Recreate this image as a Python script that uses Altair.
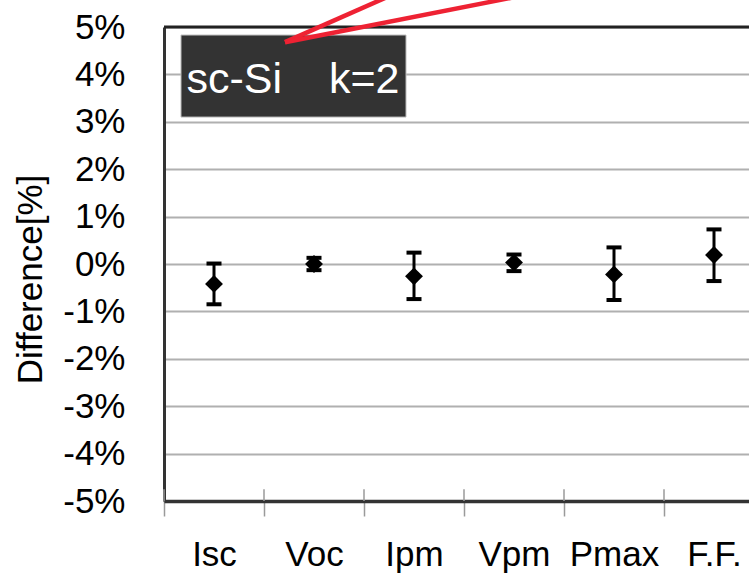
import json
import altair as alt
import pandas as pd

# ---- data ----
categories = ["Isc", "Voc", "Ipm", "Vpm", "Pmax", "F.F."]
mean_diff = [-0.42, 0.00, -0.26, 0.03, -0.22, 0.19]
upper_err = [0.01, 0.13, 0.24, 0.20, 0.35, 0.73]
lower_err = [-0.85, -0.13, -0.74, -0.15, -0.76, -0.36]
y_ticks = [-5, -4, -3, -2, -1, 0, 1, 2, 3, 4, 5]
label_left = "sc-Si"
label_right = "k=2"

FONT = "Liberation Sans"
W, H = 585, 474

positions = [i + 0.5 for i in range(len(categories))]
boundaries = list(range(len(categories)))

df = pd.DataFrame({
    "cat": categories,
    "pos": positions,
    "mean": mean_diff,
    "hi": upper_err,
    "lo": lower_err,
})
bounds_df = pd.DataFrame({"b": boundaries})

x_scale = alt.Scale(domain=[0, 5.85], nice=False, zero=False)
y_scale = alt.Scale(domain=[-5, 5], nice=False, zero=False)

x_axis = alt.Axis(
    values=boundaries,
    labelExpr=f"{json.dumps(categories)}[datum.value]",
    labelOffset=50,
    labelFlush=False,
    labelOverlap=False,
    labelBound=False,
    grid=False,
    ticks=True,
    tickSize=15,
    tickColor="#9a9a9a",
    tickWidth=1.5,
    domainColor="#333333",
    domainWidth=3.5,
    labelFont=FONT,
    labelFontSize=35,
    labelColor="#000000",
    labelPadding=21,
    title=None,
)
y_axis = alt.Axis(
    values=y_ticks,
    labelExpr="datum.value + '%'",
    grid=True,
    gridColor="#b0b0b0",
    gridWidth=2,
    ticks=False,
    domainColor="#333333",
    domainWidth=3,
    labelFont=FONT,
    labelFontSize=35,
    labelColor="#000000",
    labelPadding=39,
    labelBaseline="middle",
    title="Difference[%]",
    titleFont=FONT,
    titleFontSize=35,
    titleFontWeight="normal",
    titleColor="#000000",
    titleAngle=270,
    titleAlign="center",
    titleBaseline="middle",
    titleX=-134,
    titleY=252,
)


def X(field):
    return alt.X(field, scale=x_scale, axis=x_axis)


def Y(field):
    return alt.Y(field, scale=y_scale, axis=y_axis)


base = alt.Chart(df)

bars = base.mark_rule(color="#000000", strokeWidth=3).encode(
    x=X("pos:Q"), y=Y("lo:Q"), y2="hi:Q",
)
cap_hi = base.mark_tick(color="#000000", orient="horizontal", size=15, thickness=4, opacity=1).encode(
    x=X("pos:Q"), y=Y("hi:Q"),
)
cap_lo = base.mark_tick(color="#000000", orient="horizontal", size=15, thickness=4, opacity=1).encode(
    x=X("pos:Q"), y=Y("lo:Q"),
)
points = base.mark_point(shape="diamond", filled=True, size=320, color="#000000", opacity=1).encode(
    x=X("pos:Q"), y=Y("mean:Q"),
)

# top frame line at the top of the y domain
top_line = alt.Chart(pd.DataFrame({"v": [5]})).mark_rule(color="#222222", strokeWidth=3).encode(
    y=Y("v:Q"),
)

# short inner part of the category boundary ticks
inner_ticks = alt.Chart(bounds_df).transform_calculate(y0="-5", y1="-4.75").mark_rule(
    color="#9a9a9a", strokeWidth=1.5
).encode(
    x=X("b:Q"), y=Y("y0:Q"), y2="y1:Q",
)

# label box annotation
box_df = pd.DataFrame({"x0": [0.17], "x1": [2.42], "y0": [3.10], "y1": [4.83]})
box = alt.Chart(box_df).mark_rect(fill="#333333", stroke="#bbbbbb", strokeWidth=1).encode(
    x=X("x0:Q"), x2="x1:Q", y=Y("y0:Q"), y2="y1:Q",
)
text_df = pd.DataFrame({"x": [0.225, 1.65], "y": [3.61, 3.61], "t": [label_left, label_right]})
box_text = alt.Chart(text_df).mark_text(
    color="#ffffff", font=FONT, fontSize=43, align="left", baseline="alphabetic"
).encode(
    x=X("x:Q"), y=Y("y:Q"), text="t:N",
)

# red callout lines
callout_df = pd.DataFrame({
    "x0": [1.21, 1.21],
    "y0": [4.68, 4.68],
    "x1": [2.39, 3.87],
    "y1": [5.78, 5.78],
})
callout = alt.Chart(callout_df).mark_rule(color="#ee2233", strokeWidth=4.5).encode(
    x=X("x0:Q"), y=Y("y0:Q"), x2="x1:Q", y2="y1:Q",
)

chart = alt.layer(
    bars, cap_hi, cap_lo, points, inner_ticks, top_line, box, box_text, callout
).properties(
    width=W,
    height=H,
    autosize=alt.AutoSizeParams(type="none"),
    padding={"left": 164, "top": 27, "right": 0, "bottom": 72},
    background="#ffffff",
).configure_view(stroke=None)

chart.save("out.html", embed_options={"renderer": "svg", "actions": False})
